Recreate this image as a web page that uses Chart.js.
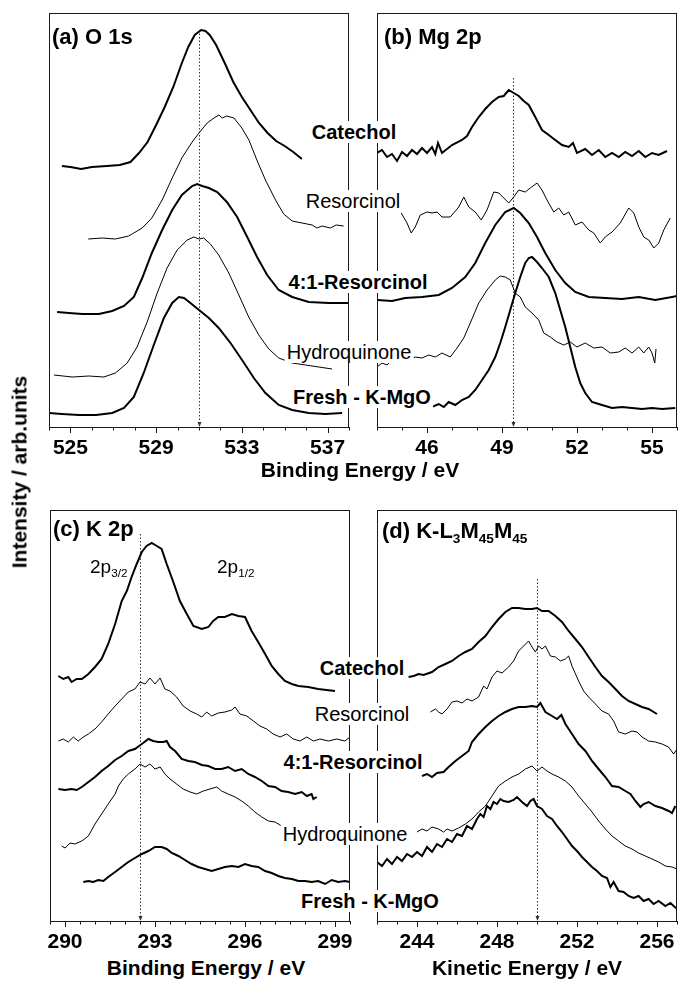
<!DOCTYPE html>
<html>
<head>
<meta charset="utf-8">
<title>XPS spectra of K-MgO catalysts</title>
<script src="https://cdn.jsdelivr.net/npm/chart.js@4.4.1/dist/chart.umd.min.js"></script>
<style>
  html, body { margin: 0; padding: 0; background: #fff; overflow: hidden; }
  #fig { position: relative; width: 678px; height: 983px; overflow: hidden;
         font-family: "Liberation Sans", Arial, sans-serif; color: #000; }
  #fig canvas { position: absolute; z-index: 1; }
  .txt { position: absolute; white-space: nowrap; line-height: 1; z-index: 2; }
  .lab { background: #fff; padding: 1px 2px; transform: translate(-50%, -50%); font-size: 20px; }
  .ttl { transform: translateY(-50%); font-size: 22px; font-weight: bold; }
  .ax { transform: translate(-50%, -50%); font-size: 21px; font-weight: bold; }
  .b { font-weight: bold; }
  sub { font-size: 62%; vertical-align: -0.4em; line-height: 0; }
</style>
</head>
<body>
<div id="fig"></div>
<script>
// Samples, top to bottom in every panel
const samples = ['Catechol', 'Resorcinol', '4:1-Resorcinol', 'Hydroquinone', 'Fresh - K-MgO'];
const boldSample = [true, false, true, false, true];

// (a) O 1s - binding energy (eV) / intensity (arb. units, stacked)
const o1sTicks = [525, 529, 533, 537];
const o1sCatE = [524.6, 525.0, 525.5, 526.0, 526.7, 527.3, 527.8, 528.2, 528.6, 529.0, 529.4, 529.8, 530.2, 530.5, 530.8, 531.1, 531.3, 531.5, 531.8, 532.2, 532.6, 533.0, 533.4, 533.8, 534.2, 534.6, 535.0, 535.4, 535.8];
const o1sCatI = [261, 260, 258, 260, 261, 262, 265, 274, 285, 302, 320, 340, 364, 380, 392, 397, 396, 392, 382, 364, 345, 330, 317, 304, 294, 286, 281, 275, 268];
const o1sResE = [525.83, 526.48, 527.1, 527.72, 528.35, 528.8, 529.28, 529.75, 530.2, 530.68, 531.0, 531.38, 531.7, 531.93, 532.08, 532.3, 532.63, 533.0, 533.33, 533.7, 534.1, 534.57, 534.95, 535.35, 535.81, 536.28, 536.5, 536.75, 537.13, 537.4, 537.75];
const o1sResI = [188, 189, 188, 191, 199, 209, 227, 249, 269, 285, 294, 304, 309, 312, 309, 311, 309, 299, 287, 267, 247, 227, 213, 206, 204, 202, 199, 201, 199, 202, 201];
const o1s41E = [524.38, 524.93, 525.55, 526.33, 526.95, 527.5, 527.96, 528.35, 528.8, 529.28, 529.75, 530.2, 530.68, 530.91, 531.15, 531.46, 531.85, 532.3, 532.78, 533.25, 533.71, 534.18, 534.72, 535.35, 536.12, 537.06, 538.0];
const o1s41I = [115, 114, 113, 113, 116, 121, 130, 149, 174, 197, 217, 232, 241, 243, 241, 239, 235, 225, 210, 190, 170, 152, 137, 130, 125, 124, 124];
const o1sHydE = [524.23, 525.08, 525.86, 526.56, 527.1, 527.65, 528.11, 528.58, 529.05, 529.51, 529.98, 530.45, 530.76, 531.0, 531.22, 531.53, 531.92, 532.39, 532.86, 533.32, 533.79, 534.26, 534.72, 535.35, 535.97, 536.59, 537.21];
const o1sHydI = [52, 50, 51, 50, 54, 64, 80, 105, 134, 159, 177, 187, 190, 188, 189, 183, 172, 154, 132, 110, 92, 78, 69, 64, 62, 60, 58];
const o1sFrE = [524.0, 524.6, 525.4, 526.2, 526.95, 527.5, 527.96, 528.42, 528.89, 529.36, 529.75, 530.06, 530.3, 530.6, 531.0, 531.46, 531.92, 532.47, 533.01, 533.56, 534.1, 534.72, 535.35, 536.12, 536.9, 537.68];
const o1sFrI = [14, 13, 12, 12, 14, 19, 30, 54, 82, 109, 124, 130, 129, 124, 117, 109, 99, 84, 67, 49, 34, 22, 17, 14, 13, 14];

// (b) Mg 2p
const mg2pTicks = [46, 49, 52, 55];
const mg2pCatE = [44.0, 44.2, 44.4, 44.6, 44.8, 45.0, 45.2, 45.4, 45.6, 45.8, 46.0, 46.2, 46.33, 46.44, 46.6, 47.0, 47.4, 47.6, 47.8, 48.07, 48.33, 48.6, 48.87, 49.07, 49.27, 49.47, 49.67, 49.87, 50.07, 50.33, 50.6, 50.87, 51.13, 51.4, 51.67, 51.84, 52.0, 52.33, 52.6, 52.87, 53.13, 53.4, 53.67, 53.93, 54.2, 54.47, 54.73, 55.0, 55.27, 55.6];
const mg2pCatI = [274, 277, 270, 273, 266, 275, 271, 277, 273, 279, 274, 280, 273, 284, 274, 282, 287, 291, 300, 310, 318, 325, 330, 331, 337, 334, 331, 326, 322, 310, 297, 292, 287, 282, 280, 284, 274, 278, 272, 277, 270, 274, 270, 275, 271, 276, 270, 274, 272, 276];
const mg2pResE = [44.97, 45.2, 45.37, 45.53, 45.73, 46.0, 46.2, 46.4, 46.6, 46.93, 47.27, 47.47, 47.67, 47.93, 48.17, 48.4, 48.67, 48.87, 49.07, 49.27, 49.47, 49.67, 49.93, 50.13, 50.4, 50.6, 50.8, 51.07, 51.27, 51.47, 51.67, 51.93, 52.2, 52.47, 52.67, 52.93, 53.13, 53.4, 53.73, 54.07, 54.27, 54.47, 54.67, 54.87, 55.07, 55.27, 55.47, 55.73];
const mg2pResI = [214, 204, 194, 200, 212, 215, 214, 215, 210, 210, 220, 230, 220, 215, 207, 217, 235, 234, 229, 224, 230, 237, 235, 239, 244, 237, 227, 215, 219, 212, 215, 202, 205, 197, 194, 184, 190, 195, 204, 219, 214, 200, 190, 187, 179, 184, 197, 209];
const mg2p41E = [44.0, 44.6, 45.13, 45.8, 46.47, 47.0, 47.53, 47.93, 48.33, 48.73, 49.13, 49.47, 49.73, 50.07, 50.4, 50.73, 51.13, 51.53, 51.93, 52.47, 53.13, 53.8, 54.47, 55.13, 55.8, 56.0];
const mg2p41I = [127, 126, 129, 130, 132, 139, 150, 164, 184, 202, 215, 219, 214, 204, 190, 174, 157, 144, 135, 130, 129, 128, 130, 127, 130, 131];
const mg2pHydE = [44.0, 44.2, 44.4, 44.6, 44.8, 45.07, 45.27, 45.53, 45.8, 46.07, 46.33, 46.6, 46.93, 47.2, 47.47, 47.73, 48.07, 48.4, 48.73, 48.93, 49.13, 49.33, 49.53, 49.73, 49.93, 50.2, 50.47, 50.67, 50.93, 51.2, 51.47, 51.73, 52.0, 52.33, 52.67, 53.0, 53.33, 53.67, 53.93, 54.2, 54.47, 54.67, 54.87, 55.0, 55.11, 55.16];
const mg2pHydI = [60, 64, 62, 67, 65, 69, 67, 70, 69, 72, 70, 74, 70, 79, 89, 104, 124, 137, 147, 151, 150, 147, 134, 130, 120, 114, 107, 94, 90, 85, 82, 85, 80, 84, 79, 80, 74, 75, 79, 74, 80, 74, 80, 74, 64, 78];
const mg2pFrE = [45.47, 45.67, 45.93, 46.2, 46.47, 46.67, 46.87, 47.13, 47.4, 47.67, 47.93, 48.2, 48.47, 48.73, 48.93, 49.13, 49.33, 49.53, 49.73, 49.93, 50.07, 50.2, 50.4, 50.6, 50.87, 51.13, 51.33, 51.53, 51.73, 51.93, 52.13, 52.33, 52.6, 53.0, 53.4, 53.8, 54.2, 54.6, 55.0, 55.4, 55.93];
const mg2pFrI = [24, 22, 24, 20, 23, 20, 25, 22, 27, 30, 37, 47, 57, 70, 84, 100, 117, 134, 150, 164, 169, 170, 165, 159, 150, 134, 117, 100, 80, 60, 44, 34, 25, 22, 19, 20, 19, 18, 19, 18, 19];

// (c) K 2p
const k2pTicks = [290, 293, 296, 299];
const k2pCatE = [289.78, 289.94, 290.11, 290.22, 290.39, 290.56, 290.78, 291.0, 291.22, 291.44, 291.67, 291.89, 292.06, 292.22, 292.39, 292.56, 292.72, 292.89, 293.06, 293.22, 293.39, 293.61, 293.83, 294.06, 294.28, 294.56, 294.78, 294.94, 295.11, 295.33, 295.56, 295.78, 296.0, 296.22, 296.44, 296.67, 296.89, 297.11, 297.33, 297.56, 297.78, 298.11, 298.44, 298.72, 299.0];
const k2pCatI = [245, 242, 244, 239, 242, 242, 247, 254, 262, 277, 297, 320, 330, 344, 357, 369, 375, 378, 375, 372, 357, 339, 320, 307, 295, 292, 294, 300, 304, 304, 307, 305, 304, 290, 279, 267, 255, 247, 240, 237, 235, 234, 232, 231, 230];
const k2pResE = [289.78, 289.94, 290.11, 290.28, 290.44, 290.61, 290.78, 291.0, 291.22, 291.44, 291.67, 291.89, 292.11, 292.33, 292.5, 292.67, 292.83, 293.0, 293.17, 293.33, 293.5, 293.72, 293.94, 294.17, 294.39, 294.56, 294.72, 294.89, 295.11, 295.33, 295.56, 295.67, 295.83, 296.06, 296.28, 296.5, 296.72, 296.94, 297.17, 297.39, 297.61, 297.83, 298.06, 298.28, 298.5, 298.78, 299.06, 299.33, 299.5];
const k2pResI = [180, 182, 179, 184, 180, 184, 187, 192, 199, 207, 215, 222, 229, 232, 239, 237, 243, 237, 243, 232, 230, 224, 215, 210, 207, 204, 209, 205, 208, 209, 211, 214, 207, 205, 200, 195, 192, 187, 184, 187, 182, 180, 184, 180, 182, 180, 182, 180, 184];
const k2p41E = [289.78, 290.0, 290.22, 290.39, 290.56, 290.78, 291.0, 291.22, 291.44, 291.67, 291.89, 292.11, 292.33, 292.56, 292.78, 292.94, 293.11, 293.28, 293.39, 293.5, 293.67, 293.89, 294.11, 294.33, 294.56, 294.78, 295.0, 295.22, 295.44, 295.67, 295.89, 296.11, 296.33, 296.56, 296.78, 297.0, 297.22, 297.44, 297.67, 297.89, 298.06, 298.22, 298.28, 298.39];
const k2p41I = [132, 131, 132, 131, 134, 139, 144, 150, 155, 161, 165, 170, 172, 177, 182, 180, 179, 179, 180, 174, 170, 162, 160, 159, 156, 155, 152, 152, 154, 150, 152, 147, 144, 140, 135, 134, 130, 129, 127, 129, 125, 127, 122, 124];
const k2pHydE = [289.89, 290.0, 290.17, 290.33, 290.56, 290.78, 291.0, 291.22, 291.44, 291.67, 291.78, 291.94, 292.11, 292.33, 292.5, 292.67, 292.83, 293.0, 293.17, 293.33, 293.5, 293.72, 293.94, 294.17, 294.39, 294.61, 294.83, 295.06, 295.22, 295.44, 295.67, 295.89, 296.11, 296.33, 296.56, 296.78, 297.0, 297.22, 297.44, 297.61, 297.83, 298.0, 298.17];
const k2pHydI = [75, 73, 78, 77, 80, 85, 97, 107, 117, 127, 135, 142, 147, 152, 157, 154, 157, 152, 154, 147, 142, 137, 132, 129, 127, 130, 132, 134, 130, 127, 124, 120, 115, 109, 104, 100, 99, 95, 92, 94, 90, 90, 89];
const k2pFrE = [290.61, 290.78, 290.94, 291.11, 291.28, 291.44, 291.67, 291.89, 292.11, 292.33, 292.56, 292.78, 293.0, 293.22, 293.39, 293.56, 293.78, 294.0, 294.22, 294.44, 294.67, 294.89, 295.11, 295.33, 295.56, 295.78, 296.0, 296.22, 296.44, 296.67, 296.89, 297.11, 297.33, 297.56, 297.78, 298.0, 298.22, 298.44, 298.67, 298.89, 299.11, 299.33, 299.5];
const k2pFrI = [39, 40, 39, 41, 40, 44, 49, 54, 59, 63, 67, 70, 74, 74, 72, 68, 65, 61, 57, 54, 52, 50, 52, 54, 55, 54, 57, 55, 54, 50, 48, 45, 43, 42, 40, 40, 39, 40, 37, 41, 39, 40, 39];

// (d) K-LMM Auger - kinetic energy (eV)
const klmmTicks = [244, 248, 252, 256];
const klmmCatE = [243.58, 243.83, 244.08, 244.33, 244.75, 245.08, 245.42, 245.75, 246.08, 246.42, 246.75, 247.08, 247.42, 247.75, 248.08, 248.42, 248.75, 249.08, 249.42, 249.75, 250.0, 250.25, 250.58, 250.92, 251.25, 251.58, 251.92, 252.25, 252.58, 252.92, 253.25, 253.58, 253.92, 254.25, 254.58, 254.92, 255.25, 255.58, 256.0];
const klmmCatI = [244, 245, 247, 246, 249, 254, 257, 260, 265, 269, 272, 279, 285, 294, 302, 309, 313, 313, 312, 312, 313, 310, 310, 305, 299, 290, 282, 274, 264, 254, 245, 239, 232, 225, 220, 217, 214, 212, 207];
const klmmResE = [244.67, 244.92, 245.08, 245.25, 245.5, 245.75, 246.0, 246.25, 246.5, 246.75, 247.08, 247.33, 247.5, 247.75, 248.0, 248.25, 248.58, 248.83, 249.08, 249.33, 249.58, 249.75, 249.92, 250.08, 250.25, 250.42, 250.67, 250.92, 251.17, 251.42, 251.58, 251.75, 252.08, 252.33, 252.58, 252.92, 253.25, 253.58, 253.83, 254.08, 254.42, 254.75, 255.0, 255.25, 255.58, 255.92, 256.25, 256.58, 256.83, 257.0];
const klmmResI = [209, 212, 209, 207, 212, 219, 220, 218, 222, 220, 224, 235, 232, 244, 250, 248, 254, 260, 270, 275, 280, 274, 269, 275, 272, 275, 265, 264, 260, 262, 265, 255, 240, 230, 224, 217, 210, 207, 200, 189, 187, 190, 189, 184, 180, 179, 177, 174, 167, 172];
const klmm41E = [244.25, 244.5, 244.75, 245.0, 245.33, 245.58, 245.92, 246.25, 246.58, 246.75, 247.08, 247.42, 247.75, 248.08, 248.42, 248.75, 249.08, 249.42, 249.75, 250.0, 250.17, 250.42, 250.75, 251.0, 251.22, 251.42, 251.75, 252.08, 252.42, 252.75, 253.08, 253.42, 253.75, 254.08, 254.42, 254.67, 254.92, 255.17, 255.33, 255.58, 255.92, 256.25, 256.58, 256.75, 256.92];
const klmm41I = [145, 147, 144, 148, 149, 154, 160, 165, 170, 179, 187, 194, 200, 205, 209, 212, 214, 214, 215, 214, 218, 209, 205, 202, 206, 197, 187, 177, 170, 160, 152, 144, 135, 134, 130, 127, 120, 114, 117, 119, 115, 113, 110, 108, 115];
const klmmHydE = [244.0, 244.25, 244.5, 244.75, 245.08, 245.33, 245.5, 245.75, 246.08, 246.42, 246.75, 247.08, 247.42, 247.75, 248.08, 248.42, 248.75, 249.08, 249.42, 249.75, 250.0, 250.25, 250.5, 250.75, 251.08, 251.42, 251.75, 252.08, 252.42, 252.75, 253.08, 253.42, 253.75, 254.08, 254.42, 254.75, 255.08, 255.42, 255.75, 256.08, 256.42, 256.75, 257.0];
const klmmHydI = [89, 92, 90, 94, 92, 89, 92, 90, 93, 97, 102, 109, 115, 125, 135, 140, 144, 147, 152, 155, 150, 154, 150, 147, 144, 140, 134, 125, 117, 109, 100, 92, 85, 80, 75, 72, 68, 65, 62, 59, 55, 54, 52];
const klmmFrE = [242.0, 242.25, 242.5, 242.75, 243.0, 243.25, 243.5, 243.75, 244.0, 244.25, 244.5, 244.75, 245.0, 245.25, 245.5, 245.75, 246.0, 246.25, 246.5, 246.75, 247.0, 247.17, 247.33, 247.5, 247.67, 247.83, 248.0, 248.17, 248.33, 248.58, 248.83, 249.0, 249.25, 249.5, 249.67, 249.83, 250.0, 250.25, 250.5, 250.75, 251.0, 251.25, 251.5, 251.75, 252.0, 252.25, 252.5, 252.75, 253.0, 253.25, 253.5, 253.67, 253.83, 254.08, 254.33, 254.58, 254.83, 255.08, 255.33, 255.58, 255.83, 256.08, 256.42, 256.67, 257.0];
const klmmFrI = [59, 55, 62, 57, 64, 60, 67, 64, 69, 65, 74, 69, 77, 74, 82, 79, 87, 85, 95, 92, 102, 107, 104, 115, 112, 119, 117, 122, 120, 119, 121, 124, 119, 115, 120, 122, 115, 112, 105, 102, 95, 89, 82, 75, 70, 64, 59, 54, 50, 45, 43, 34, 39, 30, 29, 25, 23, 25, 20, 22, 17, 20, 15, 18, 12];

// Reference peak positions (dotted markers) and where each marker starts
const refEnergy = [531, 49.45, 292.5, 250.0];
const refTop = [397, 349, 387, 342];

const FONT = '"Liberation Sans", Arial, sans-serif';
const fig = document.getElementById('fig');

const panels = [
  { left: 49, top: 13, h: 414, min: 524, max: 538, ticks: o1sTicks, minor: 1,
    series: [[o1sCatE, o1sCatI], [o1sResE, o1sResI], [o1s41E, o1s41I], [o1sHydE, o1sHydI], [o1sFrE, o1sFrI]] },
  { left: 377, top: 13, h: 414, min: 44, max: 56, ticks: mg2pTicks, minor: 1,
    series: [[mg2pCatE, mg2pCatI], [mg2pResE, mg2pResI], [mg2p41E, mg2p41I], [mg2pHydE, mg2pHydI], [mg2pFrE, mg2pFrI]] },
  { left: 50, top: 510, h: 411, min: 289.5, max: 299.5, ticks: k2pTicks, minor: 0.5,
    series: [[k2pCatE, k2pCatI], [k2pResE, k2pResI], [k2p41E, k2p41I], [k2pHydE, k2pHydI], [k2pFrE, k2pFrI]] },
  { left: 377, top: 510, h: 411, min: 242, max: 257, ticks: klmmTicks, minor: 1,
    series: [[klmmCatE, klmmCatI], [klmmResE, klmmResI], [klmm41E, klmm41I], [klmmHydE, klmmHydI], [klmmFrE, klmmFrI]] }
];

// frame, minor/major tick marks and the dotted peak marker
function framePlugin(p, idx) {
  return {
    id: 'frame' + idx,
    beforeDatasetsDraw(chart) {
      const { ctx, chartArea: a, scales: { x, y } } = chart;
      const px = Math.round(x.getPixelForValue(refEnergy[idx])) + 0.5;
      ctx.save();
      ctx.strokeStyle = '#333';
      ctx.lineWidth = 1;
      ctx.setLineDash([1.5, 2]);
      ctx.beginPath();
      ctx.moveTo(px, y.getPixelForValue(refTop[idx]));
      ctx.lineTo(px, a.bottom - 4);
      ctx.stroke();
      ctx.setLineDash([]);
      ctx.fillStyle = '#333';
      ctx.beginPath();
      ctx.moveTo(px - 2, a.bottom - 5);
      ctx.lineTo(px + 2, a.bottom - 5);
      ctx.lineTo(px, a.bottom);
      ctx.closePath();
      ctx.fill();
      ctx.restore();
    },
    afterDraw(chart) {
      const { ctx, chartArea: a, scales: { x } } = chart;
      ctx.save();
      ctx.strokeStyle = '#1a1a1a';
      ctx.lineWidth = 1;
      ctx.strokeRect(a.left + 0.5, a.top + 0.5, a.right - a.left - 1, a.bottom - a.top);
      const n = Math.round((p.max - p.min) / p.minor);
      ctx.beginPath();
      for (let i = 0; i <= n; i++) {
        const v = p.min + i * p.minor;
        const major = p.ticks.some(t => Math.abs(t - v) < 1e-6);
        const tx = Math.round(x.getPixelForValue(v)) + 0.5;
        ctx.moveTo(tx, a.bottom);
        ctx.lineTo(tx, a.bottom + (major ? 6 : 3.5));
      }
      ctx.stroke();
      ctx.restore();
    }
  };
}

function makePanel(p, idx) {
  const pad = 24, axisH = 34, w = 300;
  const cv = document.createElement('canvas');
  const W = w + 2 * pad, H = p.h + pad + axisH;
  cv.width = W; cv.height = H;
  cv.style.width = W + 'px'; cv.style.height = H + 'px';
  cv.style.left = (p.left - pad) + 'px';
  cv.style.top = (p.top - pad) + 'px';
  fig.appendChild(cv);

  new Chart(cv, {
    type: 'line',
    data: {
      datasets: p.series.map((s, i) => ({
        label: samples[i],
        data: s[0].map((e, j) => ({ x: e, y: s[1][j] })),
        borderColor: '#000',
        borderWidth: boldSample[i] ? 2 : 1,
        pointRadius: 0,
        fill: false,
        tension: 0
      }))
    },
    options: {
      responsive: false,
      animation: false,
      events: [],
      layout: { padding: { left: pad, right: pad, top: pad, bottom: 0 } },
      plugins: { legend: { display: false }, tooltip: { enabled: false } },
      scales: {
        x: {
          type: 'linear', min: p.min, max: p.max,
          grid: { display: false, drawTicks: true, tickLength: 6 },
          border: { display: false },
          afterBuildTicks: s => { s.ticks = p.ticks.map(v => ({ value: v })); },
          afterFit: s => { s.height = axisH; },
          ticks: { padding: 3, color: '#000', autoSkip: false, maxRotation: 0,
                   font: { family: FONT, size: 21, weight: 'bold' } }
        },
        y: { display: false, min: 0, max: p.h }
      }
    },
    plugins: [framePlugin(p, idx)]
  });
}

panels.forEach(makePanel);

// text on top of the plots
function addText(html, x, y, cls) {
  const d = document.createElement('div');
  d.className = 'txt ' + cls;
  d.innerHTML = html;
  d.style.left = x + 'px';
  d.style.top = y + 'px';
  fig.appendChild(d);
  return d;
}

const labelPosTop = [[354, 132], [353, 201], [358, 282], [349, 352], [362, 397]];
const labelPosBottom = [[362, 668], [362, 714], [353, 762], [345, 834], [370, 901]];
samples.forEach((s, i) => {
  const cls = 'lab' + (boldSample[i] ? ' b' : '');
  addText(s, labelPosTop[i][0], labelPosTop[i][1], cls);
  addText(s, labelPosBottom[i][0], labelPosBottom[i][1], cls);
});

addText('(a) O 1s', 52, 37, 'ttl');
addText('(b) Mg 2p', 384, 37, 'ttl');
addText('(c) K 2p', 53, 529, 'ttl');
addText('(d) K-L<sub>3</sub>M<sub>45</sub>M<sub>45</sub>', 382, 531, 'ttl');

const sp = addText('2p<sub>3/2</sub>', 90, 566, 'ttl');
sp.style.fontWeight = 'normal'; sp.style.fontSize = '19px';
const sp2 = addText('2p<sub>1/2</sub>', 217, 566, 'ttl');
sp2.style.fontWeight = 'normal'; sp2.style.fontSize = '19px';

addText('Binding Energy / eV', 360, 469, 'ax');
addText('Binding Energy / eV', 206, 967, 'ax');
addText('Kinetic Energy / eV', 527, 967, 'ax');
const yt = addText('Intensity / arb.units', 19, 472, 'ax');
yt.style.transform = 'translate(-50%, -50%) rotate(-90deg)';
</script>
</body>
</html>
